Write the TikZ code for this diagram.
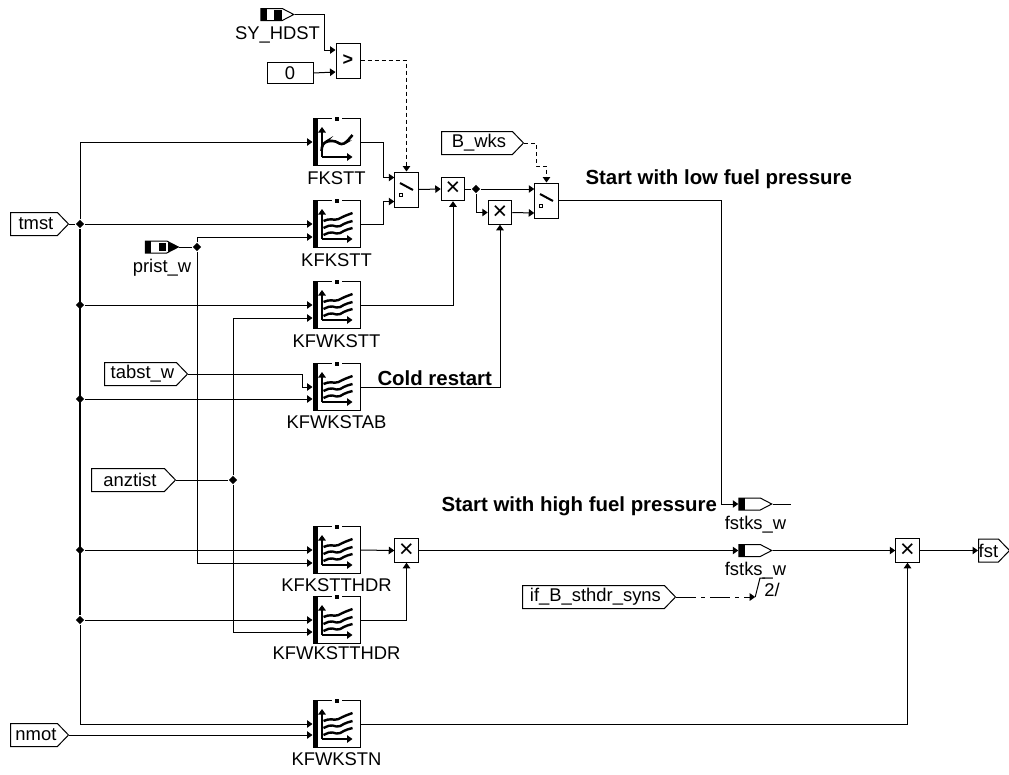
\documentclass[tikz,border=0pt]{standalone}
\usepackage{fontspec}
\setmainfont{Liberation Sans}
\usetikzlibrary{positioning,arrows.meta,calc,shapes.geometric,shapes.symbols}

\begin{document}
\begin{tikzpicture}[
    x=1pt, y=-1pt,
    >={Stealth[length=5.5pt,width=7.5pt,inset=0pt]},
    line width=1pt,
    every node/.style={font=\fontsize{18.4}{20}\selectfont},
    mapbox/.style={draw, minimum size=47pt, inner sep=0pt,
      path picture={\fill (path picture bounding box.north west) rectangle ++(4.5pt,-47pt);}},
    opbox/.style={draw, minimum width=23.5pt, minimum height=23.5pt, inner sep=0pt, font=\fontsize{25}{25}\selectfont},
    swbox/.style={draw, minimum width=23.5pt, minimum height=35pt, inner sep=0pt},
    inport/.style={draw, signal, signal to=east, signal pointer angle=92, minimum height=23pt, inner sep=0pt, anchor=west},
    textport/.style={inport, execute at begin node={\hspace*{4pt}}},
    port/.style={draw, signal, signal to=east, signal pointer angle=55, minimum width=33pt, minimum height=12pt, inner sep=0pt,
      path picture={\fill (path picture bounding box.north west) rectangle ++(6pt,-12pt);}},
    maplabel/.style={inner sep=0pt},
    portlabel/.style={inner sep=0pt, xshift=6pt},
    heading/.style={font=\fontsize{20.4}{22}\selectfont\bfseries, anchor=west, inner sep=0pt},
    dot/.style={diamond, fill, inner sep=0pt, minimum size=8.5pt},
    ctl/.style={dash pattern=on 4pt off 3pt},
    curvemap/.pic={
      \draw[white, line width=1.5pt] (-5,-23.5) -- (5,-23.5);
      \fill (-1.5,-25.5) rectangle (2.5,-21.5);
      \draw[->, line width=1.3pt] (-14.5,15) -- (-14.5,-15);
      \draw[->, line width=1.3pt] (-14.5,15) -- (16,15);
      \draw[line width=2.6pt, rounded corners=3pt] (-15,9) -- (-14,2) -- (-9,-1) -- (-1,-1) -- (5,3) -- (10,0) -- (16,-7);
    },
    multimap/.pic={
      \draw[white, line width=1.5pt] (-5,-23.5) -- (5,-23.5);
      \fill (-1.5,-25.5) rectangle (2.5,-21.5);
      \draw[->, line width=1.3pt] (-14.5,15) -- (-14.5,-15);
      \draw[->, line width=1.3pt] (-14.5,15) -- (16,15);
      \draw[line width=2.4pt, rounded corners=2pt] (-13,-3) -- (-7,-5) -- (0,-4) -- (8,-8) -- (16,-11);
      \draw[line width=2.4pt, rounded corners=2pt] (-13,4) -- (-6,1) -- (2,3) -- (9,-1) -- (16,-3);
      \draw[line width=2.4pt, rounded corners=2pt] (-13,11) -- (-6,8) -- (2,10) -- (9,6) -- (16,4);
    },
    switchmark/.pic={
      \draw[line width=2pt] (-6.5,-6.5) -- (6.5,0.5);
      \draw[line width=1pt] (-7,3.5) rectangle (-4,6.5);
    }
  ]
    \useasboundingbox (0,0) rectangle (1009,774);

    \node[mapbox] (fkstt) at (336.5,142) {};
    \node[mapbox] (kfkstt) at (336.5,224) {};
    \node[mapbox] (kfwkstt) at (336.5,305) {};
    \node[mapbox] (kfwkstab) at (336.5,387) {};
    \node[mapbox] (kfkstthdr) at (336.5,550) {};
    \node[mapbox] (kfwkstthdr) at (336.5,620) {};
    \node[mapbox] (kfwkstn) at (336.5,724) {};
    \pic at (fkstt) {curvemap};
    \pic at (kfkstt) {multimap};
    \pic at (kfwkstt) {multimap};
    \pic at (kfwkstab) {multimap};
    \pic at (kfkstthdr) {multimap};
    \pic at (kfwkstthdr) {multimap};
    \pic at (kfwkstn) {multimap};
    \node[maplabel, below=5pt of fkstt] (fksttlabel) {FKSTT};
    \node[maplabel, below=5pt of kfkstt] (kfksttlabel) {KFKSTT};
    \node[maplabel, below=5pt of kfwkstt] (kfwksttlabel) {KFWKSTT};
    \node[maplabel, below=4pt of kfwkstab] (kfwkstablabel) {KFWKSTAB};
    \node[maplabel, below=4pt of kfkstthdr] (kfkstthdrlabel) {KFKSTTHDR};
    \node[maplabel, below=2pt of kfwkstthdr] (kfwkstthdrlabel) {KFWKSTTHDR};
    \node[maplabel, below=4pt of kfwkstn] (kfwkstnlabel) {KFWKSTN};

    \node[textport, minimum width=58pt] (tmst) at (10,224) {tmst};
    \node[textport, minimum width=58pt] (nmot) at (10,735) {nmot};
    \node[textport, minimum width=83pt] (tabst) at (104,374) {tabst\_w};
    \node[textport, minimum width=84pt] (anztist) at (91,480) {anztist};
    \node[textport, minimum width=82pt] (bwks) at (441,143) {B\_wks};
    \node[textport, minimum width=153pt] (ifb) at (522,597) {if\_B\_sthdr\_syns};
    \node[inport, minimum width=31pt] (fst) at (978,550.5) {fst};

    \node[port] (syhdst) at (271.5,14.5) {};
    \fill (274,9.5) rectangle (282,19.5);
    \node[portlabel, below=5pt of syhdst] (syhdstlabel) {SY\_HDST};
    \node[port] (prist) at (156,247) {};
    \fill (168,242) -- (179,247) -- (168,252) -- cycle;
    \fill (159,243) rectangle (166,251);
    \node[portlabel, below=5pt of prist] (pristlabel) {prist\_w};
    \node[port] (fstksa) at (749.5,504) {};
    \node[portlabel, below=5pt of fstksa] (fstksalabel) {fstks\_w};
    \node[port] (fstksb) at (749.5,550.5) {};
    \node[portlabel, below=5pt of fstksb] (fstksblabel) {fstks\_w};

    \node[draw, minimum width=46pt, minimum height=21pt, inner sep=0pt] (zero) at (290,73) {0};
    \node[draw, minimum width=24pt, minimum height=35pt, inner sep=0pt, font=\fontsize{18}{20}\selectfont\bfseries] (cmp) at (348,60.5) {>};
    \node[swbox] (swa) at (406.5,189.5) {};
    \node[swbox] (swb) at (546.5,200.5) {};
    \pic at (swa) {switchmark};
    \pic at (swb) {switchmark};
    \node[opbox] (mula) at (453,189) {×};
    \node[opbox] (mulb) at (500,212.5) {×};
    \node[opbox] (mulc) at (406.5,550.5) {×};
    \node[opbox] (muld) at (907.5,550.5) {×};

    \node[dot] (busa) at (80,224) {};
    \node[dot] (busb) at (80,305) {};
    \node[dot] (busc) at (80,399) {};
    \node[dot] (busd) at (80,550) {};
    \node[dot] (buse) at (80,620) {};
    \node[dot] (pristdot) at (197,247) {};
    \node[dot] (anzdot) at (233,480) {};
    \node[dot] (muldot) at (476,189) {};
    \coordinate (fstksend) at (791,504);
    \coordinate (slash) at (760,578);

    \node[heading] (lowfuel) at (585,179) {Start with low fuel pressure};
    \node[heading] (coldre) at (377,378) {Cold restart};
    \node[heading] (highfuel) at (441,506) {Start with high fuel pressure};
    \node[inner sep=0pt] (twolabel) at (772,590) {2/};

    \draw (tmst.east) -- (busa);
    \draw[line width=2.4pt] (busa) -- (buse);
    \draw[->] (busa) |- (fkstt.west);
    \draw[->] (busa) -- (kfkstt.west);
    \draw[->] (busb) -- (kfwkstt.west);
    \draw[->] (busc) -- ([yshift=-12pt]kfwkstab.west);
    \draw[->] (busd) -- (kfkstthdr.west);
    \draw[->] (buse) -- (kfwkstthdr.west);
    \draw[->] (buse) |- (kfwkstn.west);
    \draw[->] (nmot.east) -- ([yshift=-11pt]kfwkstn.west);
    \draw[->] (tabst.east) -- ++(114,0) |- (kfwkstab.west);

    \draw (prist.east) -- (pristdot);
    \draw[->] (pristdot) |- ([yshift=-13pt]kfkstt.west);
    \draw[->] (pristdot) |- ([yshift=-13pt]kfkstthdr.west);
    \draw (anztist.east) -- (anzdot);
    \draw[->] (anzdot) |- ([yshift=-13pt]kfwkstt.west);
    \draw[->] (anzdot) |- ([yshift=-12pt]kfwkstthdr.west);

    \draw[->] (syhdst.east) -- ++(30,0) |- ([yshift=10.5pt]cmp.west);
    \draw[->] (zero.east) -- ([yshift=-11.5pt]cmp.west);
    \draw[->, ctl] (cmp.east) -| (swa.north);
    \draw[->] (fkstt.east) -- ++(23,0) |- ([yshift=12pt]swa.west);
    \draw[->] (kfkstt.east) -- ++(23,0) |- ([yshift=-12pt]swa.west);
    \draw[->] (swa.east) -- (mula.west);
    \draw[->] (kfwkstt.east) -| (mula.south);
    \draw (mula.east) -- (muldot);
    \draw[->] (muldot) -- ([yshift=11.5pt]swb.west);
    \draw[->] (muldot) |- (mulb.west);
    \draw[->] (mulb.east) -- ([yshift=-12.5pt]swb.west);
    \draw[->] (kfwkstab.east) -| (mulb.south);
    \draw[->, ctl] (bwks.east) -- ++(12,0) -- ++(0,23) -| (swb.north);
    \draw[->] (swb.east) -- ++(163,0) |- (fstksa.west);
    \draw (fstksa.east) -- (fstksend);

    \draw[->] (kfkstthdr.east) -- (mulc.west);
    \draw[->] (kfwkstthdr.east) -| (mulc.south);
    \draw[->] (mulc.east) -- (fstksb.west);
    \draw[->] (fstksb.east) -- (muld.west);
    \draw[->] (muld.east) -- (fst.west);
    \draw[->] (kfwkstn.east) -| (muld.south);
    \draw[->, dash pattern=on 20pt off 5pt on 4pt off 5pt] (ifb.east) -- ++(79,0);
    \draw ($(ifb.east)+(79,0)$) -- (slash) -- ++(5,0);
  \end{tikzpicture}
\end{document}
